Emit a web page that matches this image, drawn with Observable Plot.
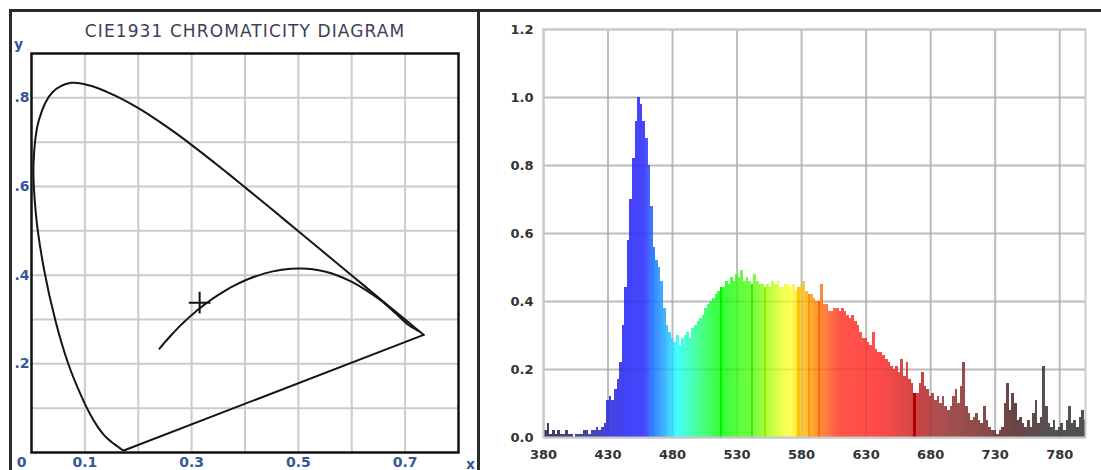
<!DOCTYPE html>
<html><head><meta charset="utf-8">
<script src="https://cdn.jsdelivr.net/npm/d3@7"></script>
<script src="https://cdn.jsdelivr.net/npm/@observablehq/plot@0.6"></script>
<style>
html,body{margin:0;padding:0;background:#fff;width:1101px;height:470px;overflow:hidden;}
#wrap{position:relative;width:1101px;height:470px;font-family:"DejaVu Sans",sans-serif;}
#left{position:absolute;left:0;top:0;}
#right{position:absolute;left:480px;top:0;}
.frm{position:absolute;background:#2b2b2b;}
#title{position:absolute;left:10px;width:470px;top:21px;text-align:center;font-size:17px;letter-spacing:1.1px;color:#3a405a;white-space:nowrap;}
</style></head><body>
<div id="wrap">
  <div id="left"></div>
  <div id="right"></div>
  <div class="frm" style="left:9px;top:9px;width:1092px;height:3px"></div>
  <div class="frm" style="left:9px;top:9px;width:3px;height:461px"></div>
  <div class="frm" style="left:477px;top:9px;width:3px;height:461px"></div>
  <div id="title">CIE1931 CHROMATICITY DIAGRAM</div>
</div>
<script>
// ---------- CIE 1931 chromaticity diagram data ----------
const locusX = [0.1741,0.1740,0.1738,0.1736,0.1733,0.1730,0.1726,0.1721,0.1714,0.1703,0.1689,0.1669,0.1644,0.1611,0.1566,0.1510,0.1440,0.1355,0.1241,0.1096,0.0913,0.0687,0.0454,0.0235,0.0082,0.0039,0.0139,0.0389,0.0743,0.1142,0.1547,0.1929,0.2296,0.2658,0.3016,0.3373,0.3731,0.4087,0.4441,0.4788,0.5125,0.5448,0.5752,0.6029,0.6270,0.6482,0.6658,0.6801,0.6915,0.7006,0.7079,0.7140,0.7190,0.7230,0.7260,0.7283,0.7300,0.7311,0.7320,0.7334,0.7344,0.7347];
const locusY = [0.0050,0.0050,0.0049,0.0049,0.0048,0.0048,0.0048,0.0048,0.0051,0.0058,0.0069,0.0086,0.0109,0.0138,0.0177,0.0227,0.0297,0.0399,0.0578,0.0868,0.1327,0.2007,0.2950,0.4127,0.5384,0.6548,0.7502,0.8120,0.8338,0.8262,0.8059,0.7816,0.7543,0.7243,0.6923,0.6589,0.6245,0.5896,0.5547,0.5202,0.4866,0.4544,0.4242,0.3965,0.3725,0.3514,0.3340,0.3197,0.3083,0.2993,0.2920,0.2859,0.2809,0.2770,0.2740,0.2717,0.2700,0.2689,0.2680,0.2666,0.2656,0.2653];
const planckX = [0.2399,0.2413,0.2447,0.2501,0.2565,0.2637,0.2719,0.2807,0.2869,0.2952,0.3064,0.3135,0.3221,0.3325,0.3451,0.3608,0.3805,0.4053,0.4369,0.4524,0.4684,0.4862,0.5056,0.5267,0.5493,0.5732,0.5985,0.6251,0.6528,0.6822,0.7060,0.7250];
const planckY = [0.2342,0.2365,0.2413,0.2489,0.2577,0.2673,0.2778,0.2884,0.2956,0.3048,0.3166,0.3236,0.3318,0.3411,0.3516,0.3636,0.3768,0.3907,0.4041,0.4086,0.4123,0.4147,0.4152,0.4133,0.4082,0.3993,0.3858,0.3674,0.3444,0.3140,0.2880,0.2740];
const whitePoint = {x: 0.315, y: 0.338};
const cieGridX = [0.1,0.2,0.3,0.4,0.5,0.6,0.7];
const cieGridY = [0.1,0.2,0.3,0.4,0.5,0.6,0.7,0.8];
const cieTickX = [0.1,0.3,0.5,0.7];
const cieTickY = [0.2,0.4,0.6,0.8];

// ---------- spectrum data (2 nm steps, 380..800) ----------
const wavelengths = d3.range(380, 801, 2);
const intensity = [
  0.03,0.02,0.04,0.01,0.02, 0.01,0.02,0.01,0.01,0.02,
  0.01,0.01,0.00,0.01,0.01, 0.01,0.02,0.02,0.01,0.02,
  0.02,0.03,0.02,0.03,0.04, 0.11,0.12,0.11,0.14,0.17,
  0.22,0.33,0.44,0.58,0.70, 0.82,0.93,1.00,0.98,0.93,
  0.88,0.80,0.68,0.56,0.52, 0.50,0.46,0.38,0.33,0.31,
  0.29,0.28,0.30,0.27,0.29, 0.30,0.31,0.29,0.32,0.33,
  0.34,0.35,0.36,0.38,0.39, 0.40,0.41,0.42,0.43,0.44,
  0.44,0.46,0.45,0.47,0.46, 0.48,0.47,0.49,0.46,0.47,
  0.46,0.45,0.48,0.46,0.45, 0.45,0.44,0.45,0.44,0.46,
  0.45,0.46,0.44,0.44,0.45, 0.45,0.44,0.45,0.43,0.44,
  0.44,0.46,0.43,0.42,0.42, 0.41,0.40,0.40,0.45,0.39,
  0.39,0.37,0.37,0.38,0.38, 0.37,0.38,0.37,0.36,0.35,
  0.36,0.34,0.33,0.31,0.29, 0.29,0.28,0.27,0.31,0.26,
  0.25,0.25,0.24,0.23,0.22, 0.21,0.20,0.21,0.19,0.23,
  0.18,0.22,0.17,0.16,0.13, 0.13,0.16,0.19,0.15,0.14,
  0.12,0.13,0.11,0.12,0.10, 0.12,0.09,0.08,0.09,0.12,
  0.14,0.10,0.15,0.22,0.09, 0.07,0.05,0.06,0.07,0.05,
  0.04,0.09,0.05,0.03,0.02, 0.02,0.01,0.02,0.03,0.10,
  0.16,0.08,0.13,0.10,0.05, 0.06,0.04,0.03,0.05,0.03,
  0.07,0.11,0.04,0.06,0.21, 0.09,0.04,0.03,0.05,0.02,
  0.03,0.04,0.02,0.05,0.09, 0.04,0.05,0.03,0.06,0.08,
  0.05
];
const specTickX = [380,430,480,530,580,630,680,730,780];
const specTickY = [0,0.2,0.4,0.6,0.8,1.0,1.2];
// wavelength -> colour stops
const colorStopNm = [380,420,430,445,458,466,474,484,492,502,512,518,530,545,556,566,573,580,590,600,610,640,660,672,690,720,745,770,800];
const colorStopHex = ["#3c3c5c","#4646b4","#4444dc","#4242f8","#4646ff","#3d86ff","#40b4ff","#44ffff","#48ffcc","#48ff90","#40ff50","#33ff33","#55ff40","#80ff40","#c0ff40","#f0ff50","#ffff55","#ffd040","#ffa030","#ff7a40","#ff5548","#ff4a4a","#e04848","#c84444","#a85050","#8c4a4a","#6a4444","#585050","#505050"];
const highlightNm = [466,518,542,552,578,586,594,668];
const highlightHex = ["#1e8cff","#00f000","#30f000","#90f000","#ffc400","#ff9800","#ff6a00","#b00000"];

const spectrum = wavelengths.map((nm, i) => ({nm, v: intensity[i]}));
const locus = locusX.map((x, i) => ({x, y: locusY[i]}));
const purpleLine = [locus[locus.length - 1], locus[0]];
const planck = planckX.map((x, i) => ({x, y: planckY[i]}));

const font = `"DejaVu Sans", sans-serif`;
const cieText = {fontSize: 14, fontWeight: "bold", fill: "#34589a"};

const left = Plot.plot({
  width: 479, height: 470,
  marginLeft: 31, marginRight: 21, marginTop: 53, marginBottom: 18,
  x: {domain: [0, 0.8], axis: null, label: null},
  y: {domain: [0, 0.9], axis: null, label: null},
  style: {background: "transparent", fontFamily: font, overflow: "visible"},
  marks: [
    Plot.gridX(cieGridX, {stroke: "#cbcbcb", strokeOpacity: 1, strokeWidth: 2}),
    Plot.gridY(cieGridY, {stroke: "#cbcbcb", strokeOpacity: 1, strokeWidth: 2}),
    Plot.line(locus, {x: "x", y: "y", curve: "catmull-rom", stroke: "#151515", strokeWidth: 2}),
    Plot.line(purpleLine, {x: "x", y: "y", stroke: "#151515", strokeWidth: 2}),
    Plot.line(planck, {x: "x", y: "y", curve: "catmull-rom", stroke: "#151515", strokeWidth: 2}),
    Plot.dot([whitePoint], {x: "x", y: "y", symbol: "plus", r: 7, stroke: "#111", strokeWidth: 2}),
    Plot.frame({stroke: "#111", strokeWidth: 2.5}),
    Plot.axisX(cieTickX, {tickSize: 0, tickPadding: 5, ...cieText, label: null, tickFormat: d3.format(".1f")}),
    Plot.axisX([0], {tickSize: 0, tickPadding: 5, dx: -10, ...cieText, label: null, tickFormat: d => String(d)}),
    Plot.axisY(cieTickY, {tickSize: 0, tickPadding: 2, ...cieText, label: null, tickFormat: d => "." + Math.round(d * 10)}),
    Plot.text(["x"], {text: d => d, frameAnchor: "bottom-right", dx: 12, dy: 12, textAnchor: "middle", lineAnchor: "middle", ...cieText}),
    Plot.text(["y"], {text: d => d, frameAnchor: "top-left", dx: -13, dy: -9, textAnchor: "middle", lineAnchor: "middle", ...cieText})
  ]
});
document.getElementById("left").append(left);

const bar = {x1: d => d.nm - 1, x2: d => d.nm + 1, y: "v", shapeRendering: "crispEdges", clip: true};
const right = Plot.plot({
  width: 621, height: 470,
  marginLeft: 63, marginRight: 16, marginTop: 29, marginBottom: 33,
  x: {domain: [380, 800], axis: null, label: null},
  y: {domain: [0, 1.2], axis: null, label: null},
  color: {type: "linear", domain: colorStopNm, range: colorStopHex, interpolate: "rgb"},
  style: {background: "transparent", fontFamily: font, overflow: "visible"},
  marks: [
    Plot.gridX(specTickX, {stroke: "#cbcbcb", strokeOpacity: 1, strokeWidth: 2}),
    Plot.gridY(specTickY, {stroke: "#cbcbcb", strokeOpacity: 1, strokeWidth: 2}),
    Plot.rectY(spectrum, {...bar, fill: "nm"}),
    ...highlightNm.map((nm, i) => Plot.rectY(spectrum.filter(d => d.nm === nm), {...bar, fill: highlightHex[i]})),
    Plot.gridX(specTickX, {stroke: "#000", strokeOpacity: 0.07, strokeWidth: 2}),
    Plot.gridY(specTickY, {stroke: "#000", strokeOpacity: 0.07, strokeWidth: 2}),
    Plot.frame({stroke: "#cbcbcb", strokeWidth: 2}),
    Plot.axisX(specTickX, {tickSize: 0, tickPadding: 12, fontSize: 13, fontWeight: "bold", fill: "#333", label: null}),
    Plot.axisY(specTickY, {tickSize: 0, tickPadding: 10, fontSize: 13, fontWeight: "bold", fill: "#333", label: null, tickFormat: d3.format(".1f")})
  ]
});
document.getElementById("right").append(right);
</script>
</body></html>
